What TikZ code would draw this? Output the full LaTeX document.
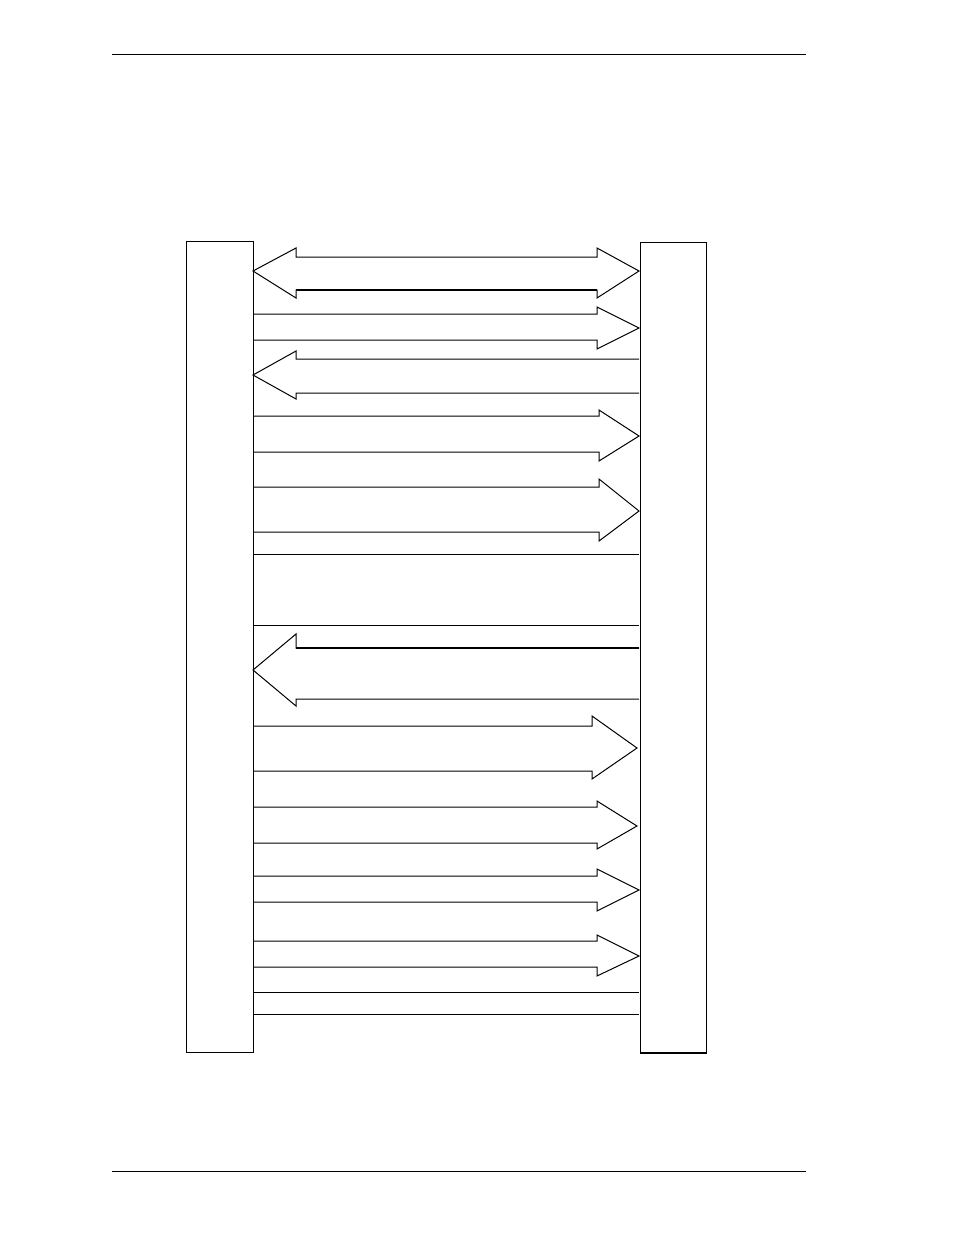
\documentclass[tikz,border=0pt]{standalone}
\begin{document}
\begin{tikzpicture}[x=1pt,y=-1pt,
  rule/.style={line width=0.8pt},
  box/.style={draw,line width=1pt,inner sep=0pt,minimum width=67pt,minimum height=811pt},
  arr/.style={draw,line width=1pt,line join=miter}]
\useasboundingbox (0,0) rectangle (954,1235);
% page rules
\draw[rule] (112,54) -- (806,54);
\draw[rule] (112,1171) -- (806,1171);
% lifelines
\node[box,anchor=north west] (L) at (186,241) {};
\node[box,anchor=north west,minimum width=66pt,minimum height=810pt] (R) at (640,242) {};
\draw[line width=2pt] (R.south west) -- (R.south east);
% 1 double arrow
\draw[arr] (253,271) -- (296,248) -- (296,257) -- (597,257) -- (597,248) -- (639,271)
  -- (597,298) -- (597,290) -- (296,290) -- (296,298) -- cycle;
\draw[line width=1.6pt] (296,290) -- (597,290);
% 2 right
\draw[arr] (253,314) -- (597,314) -- (597,307) -- (639,328) -- (597,349) -- (597,340) -- (253,340);
% 3 left
\draw[arr] (639,359) -- (296,359) -- (296,351) -- (253,375) -- (296,399) -- (296,393) -- (639,393);
% 4 right
\draw[arr] (253,416) -- (599,416) -- (599,410) -- (639,436) -- (599,461) -- (599,452) -- (253,452);
% 5 right
\draw[arr] (253,487) -- (599,487) -- (599,479) -- (639,511) -- (599,541) -- (599,532) -- (253,532);
% band
\draw[line width=1pt] (253,554) -- (639,554);
\draw[line width=1pt] (253,625) -- (639,625);
% 6 left
\draw[arr] (639,648) -- (296,648) -- (296,634) -- (253,670) -- (296,706) -- (296,699) -- (639,699);
\draw[line width=1.6pt] (296,648) -- (639,648);
% 7 right
\draw[arr] (253,726) -- (592,726) -- (592,716) -- (637,748) -- (592,779) -- (592,771) -- (253,771);
% 8 right
\draw[arr] (253,807) -- (597,807) -- (597,801) -- (637,826) -- (597,849) -- (597,843) -- (253,843);
% 9 right
\draw[arr] (253,876) -- (597,876) -- (597,869) -- (639,890) -- (597,911) -- (597,902) -- (253,902);
% 10 right
\draw[arr] (253,941) -- (597,941) -- (597,935) -- (639,956) -- (597,976) -- (597,967) -- (253,967);
% final lines
\draw[line width=1pt] (253,992) -- (639,992);
\draw[line width=1pt] (253,1014) -- (639,1014);
\end{tikzpicture}
\end{document}
